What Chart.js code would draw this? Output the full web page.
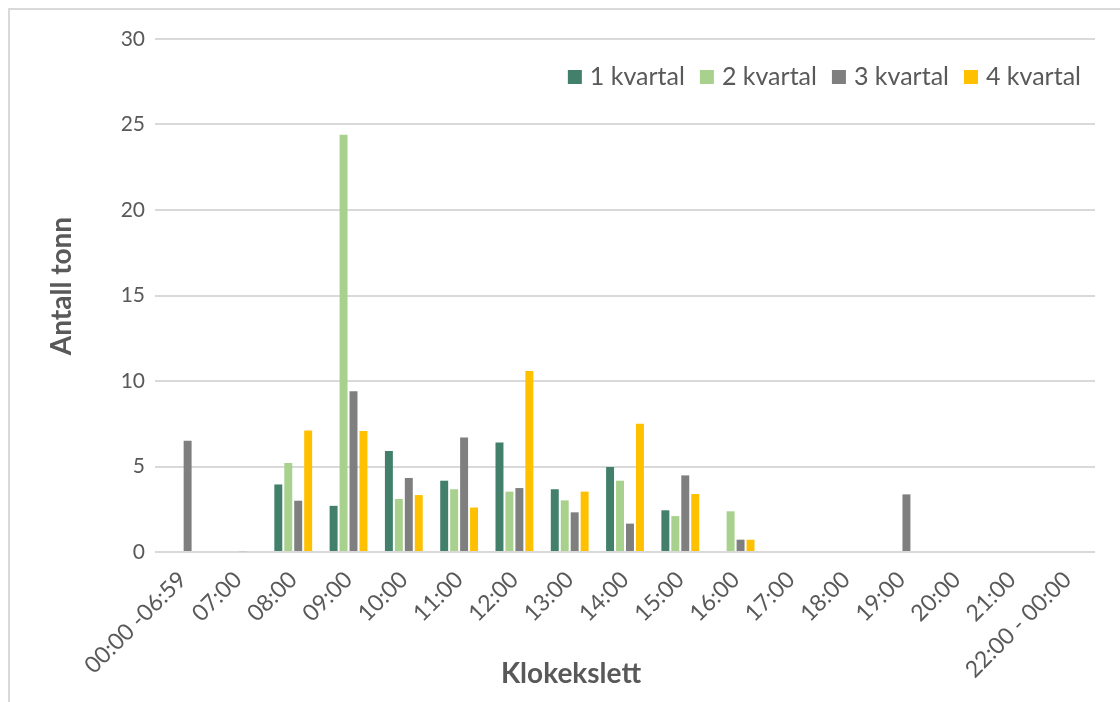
<!DOCTYPE html>
<html lang="no">
<head>
<meta charset="utf-8">
<title>Antall tonn per klokkeslett</title>
<script src="https://cdn.jsdelivr.net/npm/chart.js@4.4.1/dist/chart.umd.min.js"></script>
<style>
  html, body { margin: 0; padding: 0; background: #ffffff; }
  canvas { display: block; }
</style>
</head>
<body>
<canvas id="chart" width="1120" height="702"></canvas>
<script>
// Time-of-day buckets
const hours = ['00:00 -06:59', '07:00', '08:00', '09:00', '10:00', '11:00', '12:00', '13:00',
  '14:00', '15:00', '16:00', '17:00', '18:00', '19:00', '20:00', '21:00', '22:00 - 00:00'];

// Tonnes per quarter
const q1 = [0, 0, 3.95, 2.7, 5.9, 4.17, 6.41, 3.67, 4.97, 2.44, 0, 0, 0, 0, 0, 0, 0];
const q2 = [0, 0, 5.2, 24.4, 3.1, 3.67, 3.53, 3.02, 4.17, 2.1, 2.38, 0, 0, 0, 0, 0, 0];
const q3 = [6.5, 0.05, 3.0, 9.4, 4.33, 6.7, 3.74, 2.32, 1.66, 4.48, 0.72, 0, 0, 3.37, 0, 0, 0];
const q4 = [0, 0, 7.1, 7.07, 3.33, 2.6, 10.58, 3.53, 7.5, 3.39, 0.72, 0, 0, 0, 0, 0, 0];

const seriesNames = ['1 kvartal', '2 kvartal', '3 kvartal', '4 kvartal'];
const seriesColors = ['#43806c', '#a9d18e', '#7f7f7f', '#ffc000'];

// Y axis range
const yMin = 0, yMax = 30, yStep = 5;

const axisTitleX = 'Klokekslett';
const axisTitleY = 'Antall tonn';

const FONT = 'Lato, "Open Sans", sans-serif';
const TEXT = '#595959';

// Frame, axis titles and legend drawn on the canvas
const decorations = {
  id: 'decorations',
  beforeDraw(chart) {
    const ctx = chart.ctx;
    ctx.save();
    ctx.strokeStyle = '#d9d9d9';
    ctx.lineWidth = 2;
    ctx.beginPath();
    ctx.moveTo(9, 702);
    ctx.lineTo(9, 9);
    ctx.lineTo(1120, 9);
    ctx.stroke();
    ctx.restore();
  },
  afterDraw(chart) {
    const ctx = chart.ctx;
    ctx.save();
    ctx.fillStyle = TEXT;
    ctx.font = 'bold 28px ' + FONT;
    ctx.textAlign = 'center';
    ctx.textBaseline = 'middle';
    ctx.fillText(axisTitleX, 571, 674);
    ctx.save();
    ctx.translate(62, 286);
    ctx.rotate(-Math.PI / 2);
    ctx.fillText(axisTitleY, 0, 0);
    ctx.restore();

    // legend, right-aligned inside the plot area
    ctx.font = '25px ' + FONT;
    ctx.textAlign = 'left';
    const box = 14, boxGap = 8, itemGap = 15;
    const sets = chart.data.datasets;
    let total = 0;
    sets.forEach((ds, i) => {
      total += box + boxGap + ctx.measureText(ds.label).width;
      if (i < sets.length - 1) total += itemGap;
    });
    let x = 1081 - total;
    const y = 77;
    sets.forEach(ds => {
      ctx.fillStyle = ds.backgroundColor;
      ctx.fillRect(x, y - box / 2, box, box);
      x += box + boxGap;
      ctx.fillStyle = TEXT;
      ctx.fillText(ds.label, x, y);
      x += ctx.measureText(ds.label).width + itemGap;
    });
    ctx.restore();
  }
};

const quarters = [q1, q2, q3, q4];

new Chart(document.getElementById('chart'), {
  type: 'bar',
  data: {
    labels: hours,
    datasets: quarters.map((values, i) => ({
      label: seriesNames[i],
      data: values,
      backgroundColor: seriesColors[i],
      borderWidth: 0,
      categoryPercentage: 0.72,
      barPercentage: 0.8
    }))
  },
  options: {
    responsive: false,
    devicePixelRatio: 1,
    animation: false,
    layout: { padding: { left: 0, top: 39, right: 25, bottom: 0 } },
    plugins: {
      legend: { display: false },
      tooltip: { enabled: false }
    },
    scales: {
      x: {
        grid: { display: false },
        border: { display: false },
        ticks: {
          color: TEXT,
          font: { family: FONT, size: 23 },
          minRotation: 45,
          maxRotation: 45,
          padding: 6,
          autoSkip: false
        },
        afterFit(scale) { scale.height = 150; }
      },
      y: {
        min: yMin,
        max: yMax,
        grid: { color: '#d9d9d9', lineWidth: 2, drawTicks: false },
        border: { display: false },
        ticks: {
          stepSize: yStep,
          color: TEXT,
          font: { family: FONT, size: 21 },
          padding: 10
        },
        afterFit(scale) { scale.width = 155; }
      }
    }
  },
  plugins: [decorations]
});
</script>
</body>
</html>
